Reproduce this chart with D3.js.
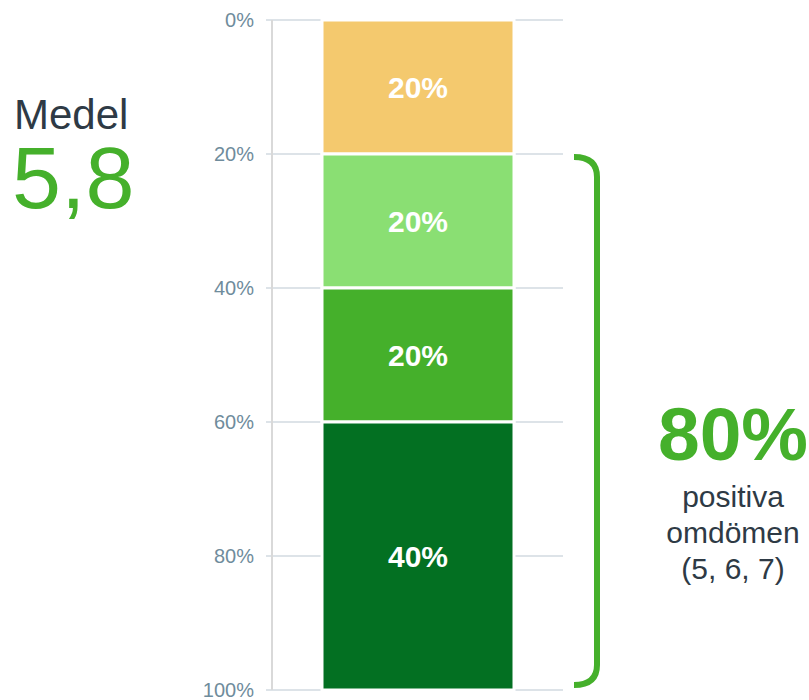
<!DOCTYPE html>
<html>
<head>
<meta charset="utf-8">
<script src="https://cdn.jsdelivr.net/npm/d3@7"></script>
<style>
  body { margin: 0; background: #fff; font-family: "Liberation Sans", Arial, sans-serif; }
</style>
</head>
<body>
<div id="chart"></div>
<script>
var segments = ["7", "6", "5", "1-4"];
var shares = [20, 20, 20, 40];
var colors = ["#F4C96E", "#8ADF73", "#45B02B", "#037022"];
var ticks = [0, 20, 40, 60, 80, 100];
var medel = "5,8";
var positive = 80;
var positiveLabel = ["positiva", "omdömen", "(5, 6, 7)"];

var width = 809, height = 700;

var svg = d3.select("#chart")
    .append("svg")
    .attr("width", width)
    .attr("height", height)
    .style("font-family", "'Liberation Sans', Arial, sans-serif");

var y = d3.scaleLinear().domain([0, 100]).range([20, 690]);

// gridlines
svg.append("g").selectAll("line")
    .data(ticks)
    .enter()
    .append("line")
    .attr("x1", 266)
    .attr("x2", 563)
    .attr("y1", d => y(d))
    .attr("y2", d => y(d))
    .style("stroke", "#DDE3E8")
    .style("stroke-width", 2);

// axis line
svg.append("line")
    .attr("x1", 272).attr("x2", 272)
    .attr("y1", y(0)).attr("y2", y(100))
    .style("stroke", "#D9D9D9")
    .style("stroke-width", 2);

// tick labels
svg.append("g").selectAll("text")
    .data(ticks)
    .enter()
    .append("text")
    .attr("x", 254)
    .attr("y", d => y(d) + 7)
    .attr("text-anchor", "end")
    .style("font-size", "20px")
    .style("fill", "#6F8C9C")
    .text(d => d + "%");

// stacked bar
var starts = d3.cumsum([0].concat(shares.slice(0, -1)));
var bar = svg.append("g");

bar.selectAll("rect")
    .data(shares)
    .enter()
    .append("rect")
    .attr("x", 322)
    .attr("width", 192)
    .attr("y", (d, i) => y(starts[i]))
    .attr("height", d => y(d) - y(0))
    .style("fill", (d, i) => colors[i])
    .style("stroke", "#fff")
    .style("stroke-width", 3);

bar.selectAll("text")
    .data(shares)
    .enter()
    .append("text")
    .attr("x", 418)
    .attr("y", (d, i) => y(starts[i] + d / 2) + 11)
    .attr("text-anchor", "middle")
    .style("font-size", "30px")
    .style("font-weight", "bold")
    .style("fill", "#fff")
    .text(d => d + "%");

// bracket for positive
var b0 = y(100 - positive) + 3, b1 = y(100) - 5, bx = 597, r = 20;
svg.append("path")
    .attr("d", `M${bx - r - 3},${b0} Q${bx},${b0} ${bx},${b0 + r} L${bx},${b1 - r} Q${bx},${b1} ${bx - r - 3},${b1}`)
    .style("fill", "none")
    .style("stroke", "#45B02B")
    .style("stroke-width", 6);

svg.append("text")
    .attr("x", 733)
    .attr("y", 460)
    .attr("text-anchor", "middle")
    .style("font-size", "75px")
    .style("font-weight", "bold")
    .style("fill", "#45B02B")
    .text(positive + "%");

svg.append("g").selectAll("text")
    .data(positiveLabel)
    .enter()
    .append("text")
    .attr("x", 733)
    .attr("y", (d, i) => 507 + i * 36)
    .attr("text-anchor", "middle")
    .style("font-size", "30px")
    .style("fill", "#2E3A45")
    .text(d => d);

// mean
svg.append("text")
    .attr("x", 14)
    .attr("y", 129)
    .style("font-size", "42px")
    .style("fill", "#2E3A45")
    .text("Medel");

svg.append("text")
    .attr("x", 12)
    .attr("y", 208)
    .style("font-size", "88px")
    .style("fill", "#45B02B")
    .text(medel);
</script>
</body>
</html>
